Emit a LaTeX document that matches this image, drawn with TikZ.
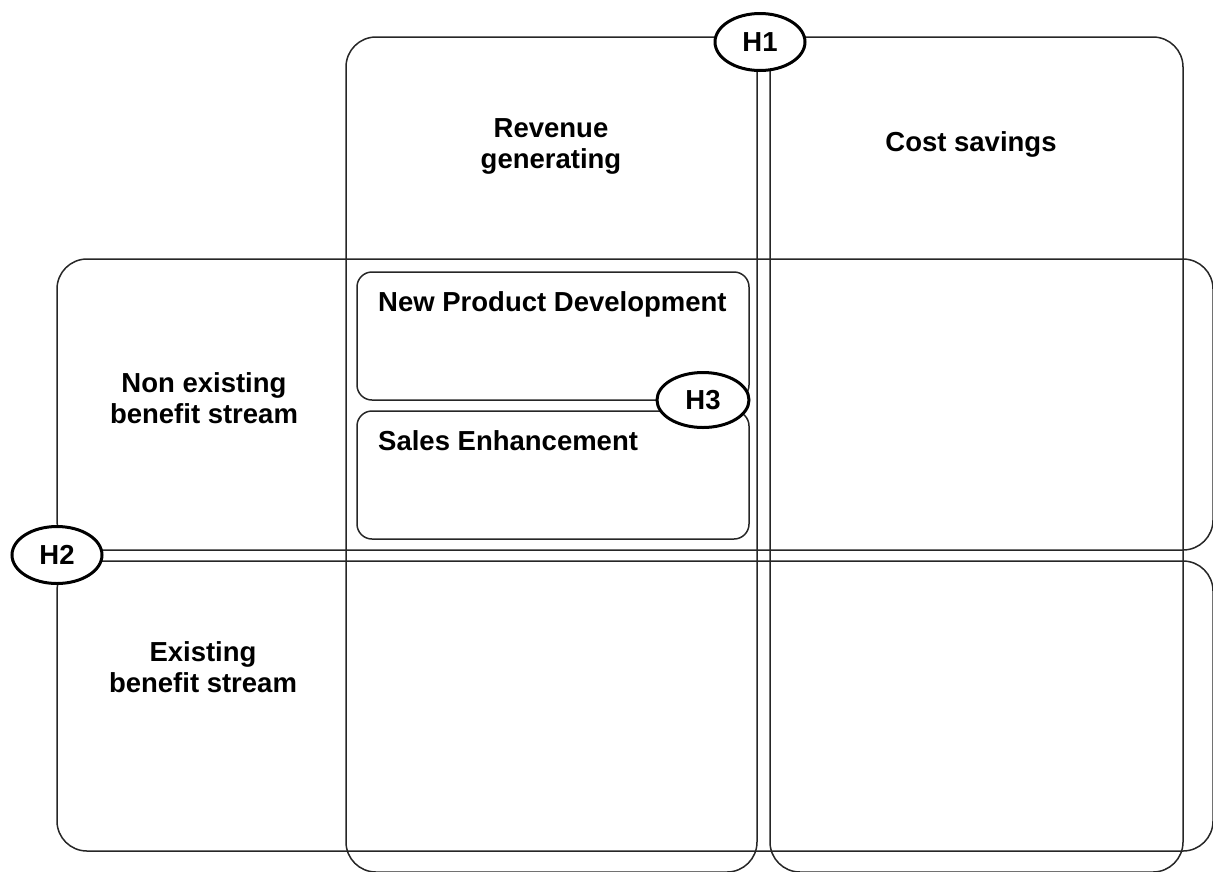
\documentclass[tikz,border=0pt]{standalone}
\usepackage{fontspec}
\setmainfont{Liberation Sans}
\usetikzlibrary{shapes.geometric}
\begin{document}
\begin{tikzpicture}[x=1pt,y=-1pt,
  box/.style={draw=black!85, line width=1.5pt, rounded corners=30pt, inner sep=0pt, outer sep=0pt},
  sub/.style={draw=black!85, line width=1.5pt, rounded corners=15pt, inner sep=0pt, outer sep=0pt},
  hub/.style={ellipse, draw=black, line width=3pt, fill=white, minimum width=90pt, minimum height=57pt, inner sep=0pt, font=\fontsize{27.5}{31}\selectfont\bfseries},
  lbl/.style={font=\fontsize{27.5}{31}\selectfont\bfseries, inner sep=0pt, align=center}]
\useasboundingbox (0,0) rectangle (1213,871);
\clip (0,0) rectangle (1213,871);
\node[box, minimum width=1156pt, minimum height=291pt] (row1) at (635,404.5) {};
\node[box, minimum width=1156pt, minimum height=290pt] (row2) at (635,706) {};
\node[box, minimum width=411pt, minimum height=835pt] (col1) at (551.5,454.5) {};
\node[box, minimum width=413pt, minimum height=835pt] (col2) at (976.5,454.5) {};
\node[sub, minimum width=392pt, minimum height=128pt] (npd) at (553,336) {};
\node[sub, minimum width=392pt, minimum height=128pt] (se) at (553,475) {};
\node[hub] (h1) at (760,42) {H1};
\node[hub] (h2) at (57,555) {H2};
\node[hub, minimum width=92pt, minimum height=55pt] (h3) at (703,400) {H3};
\node[lbl] (trev) at (551,146) {Revenue\\generating};
\node[lbl, anchor=base] (tcost) at (971,151) {Cost savings};
\node[lbl] (tnon) at (204,398) {Non existing\\benefit stream};
\node[lbl] (tex) at (203,667) {Existing\\benefit stream};
\node[lbl, anchor=base west] (tnpd) at (378,311) {New Product Development};
\node[lbl, anchor=base west] (tse) at (378,450) {Sales Enhancement};
\end{tikzpicture}
\end{document}
